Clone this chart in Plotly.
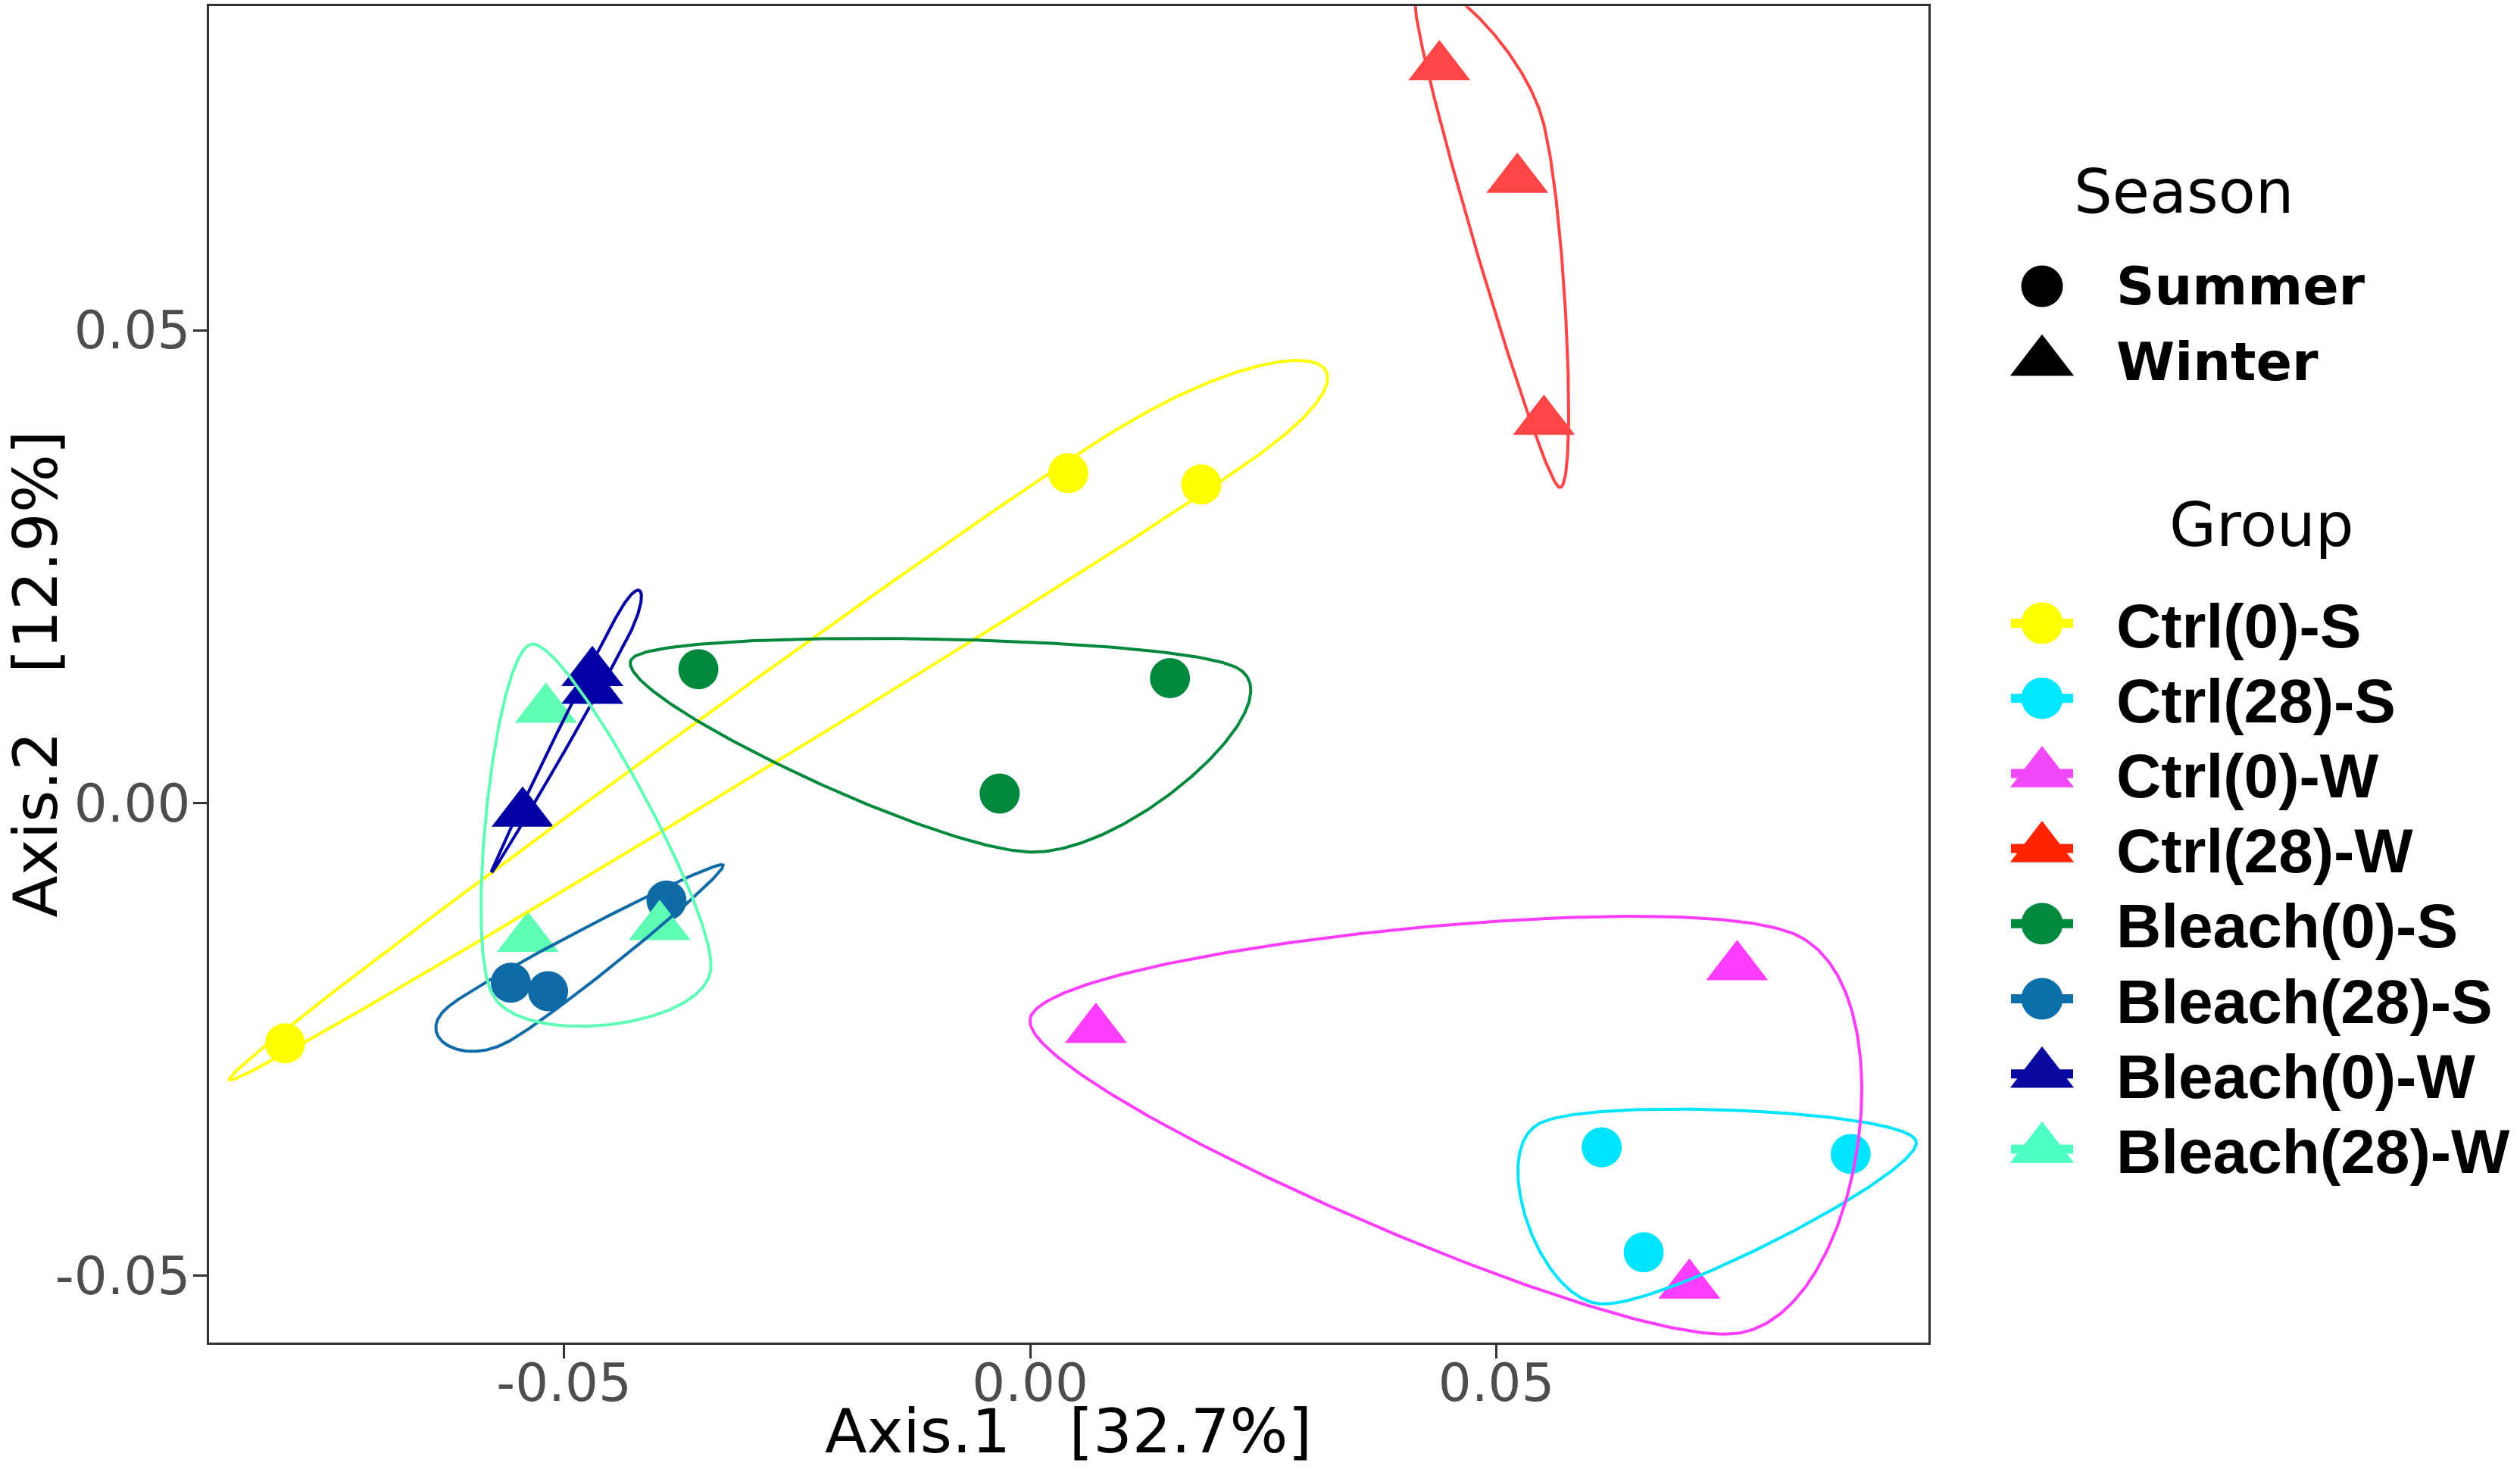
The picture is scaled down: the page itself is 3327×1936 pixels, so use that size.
import numpy as np
import plotly.graph_objects as go

# ---------------- data ----------------
groups = ["Ctrl(0)-S", "Ctrl(28)-S", "Ctrl(0)-W", "Ctrl(28)-W",
          "Bleach(0)-S", "Bleach(28)-S", "Bleach(0)-W", "Bleach(28)-W"]
group_season = ["Summer", "Summer", "Winter", "Winter",
                "Summer", "Summer", "Winter", "Winter"]
seasons = ["Summer", "Winter"]

ctrl0_s_x = [-0.0799, 0.00409, 0.01836]
ctrl0_s_y = [-0.0254, 0.0349, 0.0337]
ctrl28_s_x = [0.0613, 0.0880, 0.0658]
ctrl28_s_y = [-0.0364, -0.0371, -0.0475]
ctrl0_w_x = [0.07582, 0.00705, 0.07070]
ctrl0_w_y = [-0.01731, -0.02394, -0.05099]
ctrl28_w_x = [0.04389, 0.05225, 0.05510]
ctrl28_w_y = [0.07787, 0.06596, 0.04036]
bleach0_s_x = [-0.03558, 0.01500, -0.00327]
bleach0_s_y = [0.01416, 0.01322, 0.00101]
bleach28_s_x = [-0.0557, -0.0517, -0.0390]
bleach28_s_y = [-0.0190, -0.0199, -0.0103]
bleach0_w_x = [-0.05443, -0.04695, -0.04695]
bleach0_w_y = [-0.00108, 0.01380, 0.01192]
bleach28_w_x = [-0.05193, -0.05387, -0.03973]
bleach28_w_y = [0.00992, -0.01431, -0.01307]

group_x = [ctrl0_s_x, ctrl28_s_x, ctrl0_w_x, ctrl28_w_x,
           bleach0_s_x, bleach28_s_x, bleach0_w_x, bleach28_w_x]
group_y = [ctrl0_s_y, ctrl28_s_y, ctrl0_w_y, ctrl28_w_y,
           bleach0_s_y, bleach28_s_y, bleach0_w_y, bleach28_w_y]

x_ticks = [-0.05, 0.0, 0.05]
x_ticklabels = ["-0.05", "0.00", "0.05"]
y_ticks = [-0.05, 0.0, 0.05]
y_ticklabels = ["-0.05", "0.00", "0.05"]
x_title = "Axis.1\u00a0\u00a0\u00a0[32.7%]"
y_title = "Axis.2\u00a0\u00a0\u00a0[12.9%]"

# ---------------- style ----------------
point_colors = ["#FFFF00", "#00E5FF", "#FF3DFF", "#FF4545",
                "#00883D", "#0E6BA8", "#0000A5", "#5EFFB4"]
legend_colors = ["#FFFF00", "#00E8FF", "#F04AF8", "#FF2400",
                 "#008A3E", "#0A6EA8", "#0A0AA0", "#4DFFC4"]
season_symbol = {"Summer": "circle", "Winter": "triangle-up"}
season_size = {"Summer": 53, "Winter": 71}

W, H = 3327, 1936
PL, PR, PT, PB = 276, 2545.5, 8.3, 1773
X0, X1 = -0.08806, 0.0963
Y0, Y1 = -0.05705, 0.08427
SX = (PR - PL) / (X1 - X0)
SY = (PB - PT) / (Y1 - Y0)
EXPAND_PX = 88


def hull(pts):
    P = sorted(map(tuple, pts))
    if len(P) < 3:
        return np.array(P)

    def cross(o, a, b):
        return (a[0]-o[0])*(b[1]-o[1]) - (a[1]-o[1])*(b[0]-o[0])
    lower, upper = [], []
    for p in P:
        while len(lower) >= 2 and cross(lower[-2], lower[-1], p) <= 0:
            lower.pop()
        lower.append(p)
    for p in reversed(P):
        while len(upper) >= 2 and cross(upper[-2], upper[-1], p) <= 0:
            upper.pop()
        upper.append(p)
    return np.array(lower[:-1] + upper[:-1])


def encircle(xs, ys, n=120):
    pts = np.column_stack([(np.array(xs) - X0) * SX, (np.array(ys) - Y0) * SY])
    c = pts.mean(axis=0)
    hp = hull(pts)
    d = hp - c
    d = d / np.linalg.norm(d, axis=1)[:, None]
    hp = hp + d * EXPAND_PX
    k = len(hp)
    t = np.linspace(0, 1, n, endpoint=False)[:, None]
    h00 = 2*t**3 - 3*t**2 + 1
    h10 = t**3 - 2*t**2 + t
    h01 = -2*t**3 + 3*t**2
    h11 = t**3 - t**2
    segs = []
    for i in range(k):
        p0, p1, p2, p3 = hp[(i-1) % k], hp[i], hp[(i+1) % k], hp[(i+2) % k]
        m1 = (p2 - p0) / 2
        m2 = (p3 - p1) / 2
        segs.append(h00*p1 + h10*m1 + h01*p2 + h11*m2)
    curve = np.vstack(segs + [segs[0][:1]])
    return curve[:, 0] / SX + X0, curve[:, 1] / SY + Y0


fig = go.Figure()

# points
for g, s, xs, ys, col in zip(groups, group_season, group_x, group_y, point_colors):
    fig.add_trace(go.Scatter(
        x=xs, y=ys, mode="markers", name=g, showlegend=False,
        marker=dict(symbol=season_symbol[s], size=season_size[s], color=col,
                    line=dict(width=0)),
        xaxis="x", yaxis="y"))

# encircling paths
for g, xs, ys, col in zip(groups, group_x, group_y, point_colors):
    cx, cy = encircle(xs, ys)
    fig.add_trace(go.Scatter(
        x=cx, y=cy, mode="lines", showlegend=False, hoverinfo="skip",
        line=dict(color=col, width=4, shape="linear"),
        xaxis="x", yaxis="y"))

# ---------------- manual legend (pixel axes) ----------------
LX0 = 2560
key_x = 2696
key_half = 41
text_x = 2792

# Season legend
season_key_y = [378, 478]
for s, ky in zip(seasons, season_key_y):
    fig.add_trace(go.Scatter(
        x=[key_x], y=[ky], mode="markers", showlegend=False, hoverinfo="skip",
        marker=dict(symbol=season_symbol[s], size=season_size[s] + 2, color="black",
                    line=dict(width=0)),
        xaxis="x2", yaxis="y2"))

# Group legend
group_key_y0 = 823
group_key_dy = 99.2
for i, (g, s) in enumerate(zip(groups, group_season)):
    ky = group_key_y0 + i * group_key_dy
    fig.add_trace(go.Scatter(
        x=[key_x - key_half, key_x + key_half], y=[ky, ky], mode="lines",
        showlegend=False, hoverinfo="skip",
        line=dict(color=legend_colors[i], width=12),
        xaxis="x2", yaxis="y2"))
    fig.add_trace(go.Scatter(
        x=[key_x], y=[ky], mode="markers", showlegend=False, hoverinfo="skip",
        marker=dict(symbol=season_symbol[s], size=season_size[s] + 2,
                    color=legend_colors[i], line=dict(width=0)),
        xaxis="x2", yaxis="y2"))

annotations = []
annotations.append(dict(text="Season", x=2883, y=253, xref="x2", yref="y2",
                        xanchor="center", yanchor="middle", showarrow=False,
                        font=dict(family="DejaVu Sans", size=80, color="black")))
for s, ky in zip(seasons, season_key_y):
    annotations.append(dict(text=s, x=text_x, y=ky, xref="x2", yref="y2",
                            xanchor="left", yanchor="middle", showarrow=False,
                            font=dict(family="DejaVu Sans", size=70, color="black",
                                      weight="bold")))
annotations.append(dict(text="Group", x=2986, y=693, xref="x2", yref="y2",
                        xanchor="center", yanchor="middle", showarrow=False,
                        font=dict(family="DejaVu Sans", size=80, color="black")))
for i, g in enumerate(groups):
    ky = group_key_y0 + i * group_key_dy + 3
    annotations.append(dict(text=g, x=text_x, y=ky, xref="x2", yref="y2",
                            xanchor="left", yanchor="middle", showarrow=False,
                            font=dict(family="Liberation Sans", size=82, color="black",
                                      weight="bold")))

# axis titles
annotations.append(dict(text=x_title, x=(PL + PR) / 2 / W, y=1 - 1890 / H,
                        xref="paper", yref="paper", xanchor="center", yanchor="middle",
                        showarrow=False,
                        font=dict(family="DejaVu Sans", size=81, color="black")))
annotations.append(dict(text=y_title, x=47 / W, y=1 - ((PT + PB) / 2) / H,
                        xref="paper", yref="paper", xanchor="center", yanchor="middle",
                        showarrow=False, textangle=-90,
                        font=dict(family="DejaVu Sans", size=81, color="black")))

axis_common = dict(showgrid=False, zeroline=False, showline=True, mirror=True,
                   linecolor="#333333", linewidth=2.8, ticks="outside", ticklen=18,
                   tickwidth=3, tickcolor="#333333",
                   tickfont=dict(family="DejaVu Sans", size=69, color="#4D4D4D"))

fig.update_layout(
    width=W, height=H,
    margin=dict(l=0, r=0, t=0, b=0),
    paper_bgcolor="white", plot_bgcolor="white",
    showlegend=False,
    xaxis=dict(domain=[PL / W, PR / W], range=[X0, X1], anchor="y",
               tickvals=x_ticks, ticktext=x_ticklabels, ticklabelstandoff=-27,
               **axis_common),
    yaxis=dict(domain=[1 - PB / H, 1 - PT / H], range=[Y0, Y1], anchor="x",
               tickvals=y_ticks, ticktext=y_ticklabels, ticklabelstandoff=-10,
               **axis_common),
    xaxis2=dict(domain=[LX0 / W, 1], range=[LX0, W], visible=False, anchor="y2",
                fixedrange=True),
    yaxis2=dict(domain=[0, 1], range=[H, 0], visible=False, anchor="x2",
                fixedrange=True),
    annotations=annotations,
)

fig.write_html("out.html",
               config={"displayModeBar": False},
               post_script="document.body.style.margin='0px';"
                           "document.body.style.overflow='hidden';")
